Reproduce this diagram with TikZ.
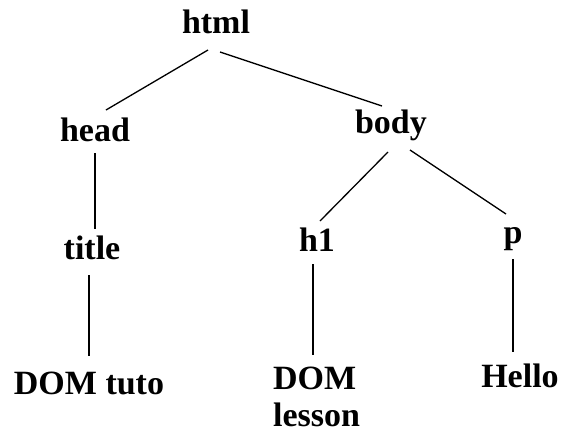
\documentclass[tikz,border=0pt]{standalone}
\usepackage{fontspec}
\setmainfont{Liberation Serif}
\begin{document}
\begin{tikzpicture}[x=1pt,y=-1pt,
  lbl/.style={inner sep=0pt, anchor=base, font=\bfseries\fontsize{34}{37}\selectfont},
  edge/.style={draw=black, line width=1.3pt}]
\useasboundingbox[fill=white] (0,0) rectangle (563,434);
\node[lbl] (html)  at (216,33)  {html};
\node[lbl] (head)  at (95,141)  {head};
\node[lbl] (body)  at (391,133) {body};
\node[lbl] (title) at (92,259)  {title};
\node[lbl] (h1)    at (317,251) {h1};
\node[lbl] (p)     at (513,243) {p};
\node[lbl] (tuto)  at (89,394)  {DOM tuto};
\node[lbl, anchor=north west, align=left] (lesson) at (273,367) {DOM\\lesson};
\node[lbl] (hello) at (520,387) {Hello};
\draw[edge] ([shift={(-8,17)}]html.base) -- ([shift={(11,-31)}]head.base);
\draw[edge] ([shift={(4,19)}]html.base) -- ([shift={(-9,-27)}]body.base);
\draw[edge] ([shift={(0,12)}]head.base) -- ([shift={(3,-30)}]title.base);
\draw[edge] ([shift={(-3,16)}]title.base) -- ([shift={(0,-38)}]tuto.base);
\draw[edge] ([shift={(-3,19)}]body.base) -- ([shift={(3,-30)}]h1.base);
\draw[edge] ([shift={(19,17)}]body.base) -- ([shift={(-7,-29)}]p.base);
\draw[edge] ([shift={(-4,13)}]h1.base) -- ([shift={(40,-12)}]lesson.north west);
\draw[edge] ([shift={(0,16)}]p.base) -- ([shift={(-7,-35)}]hello.base);
\end{tikzpicture}
\end{document}
